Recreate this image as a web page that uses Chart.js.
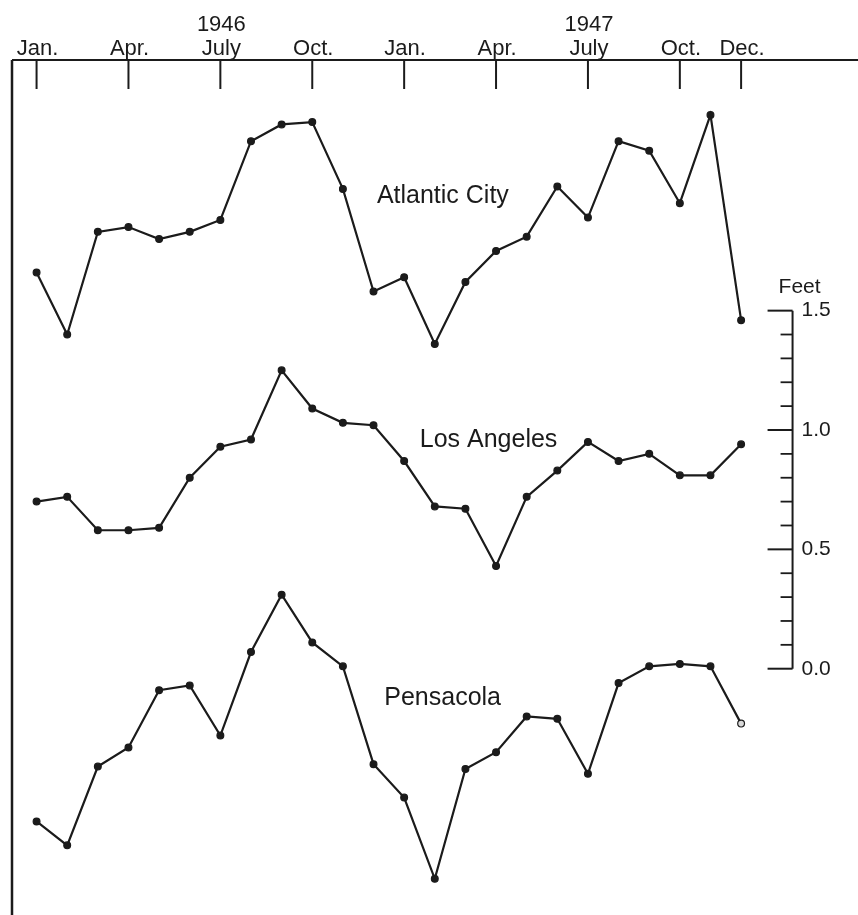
<!DOCTYPE html>
<html>
<head>
<meta charset="utf-8">
<script src="https://cdn.jsdelivr.net/npm/chart.js@4.4.0/dist/chart.umd.min.js"></script>
<style>
  html, body { margin: 0; padding: 0; background: #fff; }
  canvas { display: block; }
</style>
</head>
<body>
<canvas id="seaLevel" width="858" height="915"></canvas>
<script>
// monthly means, Jan 1946 .. Dec 1947 (in feet on the right-hand scale)
const months = ['1946-01','1946-02','1946-03','1946-04','1946-05','1946-06','1946-07','1946-08','1946-09','1946-10','1946-11','1946-12',
                '1947-01','1947-02','1947-03','1947-04','1947-05','1947-06','1947-07','1947-08','1947-09','1947-10','1947-11','1947-12'];

const atlanticCity = [1.66, 1.40, 1.83, 1.85, 1.80, 1.83, 1.88, 2.21, 2.28, 2.29, 2.01, 1.58,
                      1.64, 1.36, 1.62, 1.75, 1.81, 2.02, 1.89, 2.21, 2.17, 1.95, 2.32, 1.46];
const losAngeles   = [0.70, 0.72, 0.58, 0.58, 0.59, 0.80, 0.93, 0.96, 1.25, 1.09, 1.03, 1.02,
                      0.87, 0.68, 0.67, 0.43, 0.72, 0.83, 0.95, 0.87, 0.90, 0.81, 0.81, 0.94];
const pensacola    = [-0.64, -0.74, -0.41, -0.33, -0.09, -0.07, -0.28, 0.07, 0.31, 0.11, 0.01, -0.40,
                      -0.54, -0.88, -0.42, -0.35, -0.20, -0.21, -0.44, -0.06, 0.01, 0.02, 0.01, -0.23];

const stationNames = ['Atlantic City', 'Los Angeles', 'Pensacola'];

// top axis
const monthTicks = [0, 3, 6, 9, 12, 15, 18, 21, 23];
const monthTickLabels = [['Jan.'], ['Apr.'], ['1946', 'July'], ['Oct.'], ['Jan.'], ['Apr.'], ['1947', 'July'], ['Oct.'], ['Dec.']];

// right-hand "Feet" scale
const feetMajor = [0, 0.5, 1.0, 1.5];
const feetMajorLabels = ['0.0', '0.5', '1.0', '1.5'];
const feetMinor = [0.1, 0.2, 0.3, 0.4, 0.6, 0.7, 0.8, 0.9, 1.1, 1.2, 1.3, 1.4];

const ink = '#1b1b1b';
const font = '"Liberation Sans", Arial, Helvetica, sans-serif';

// where the station names sit (month index, feet)
const nameAnchors = [[11.11, 1.95], [12.51, 0.93], [11.35, -0.15]];
const feetAxisAt = 24.68;

const toPoints = arr => arr.map((v, i) => ({x: i, y: v}));

const framePlugin = {
  id: 'frame',
  afterDraw(chart) {
    const {ctx, chartArea, scales: {x, y}} = chart;
    const top = chartArea.top, left = chartArea.left;
    ctx.save();
    ctx.strokeStyle = ink;
    ctx.fillStyle = ink;

    // frame: top rule and left rule
    ctx.lineWidth = 2;
    ctx.beginPath();
    ctx.moveTo(left, top);
    ctx.lineTo(chart.width, top);
    ctx.stroke();
    ctx.lineWidth = 2.5;
    ctx.beginPath();
    ctx.moveTo(left, top);
    ctx.lineTo(left, chart.height);
    ctx.stroke();

    // month ticks (pointing down) and labels
    ctx.lineWidth = 2;
    ctx.font = '22px ' + font;
    ctx.textAlign = 'center';
    ctx.textBaseline = 'alphabetic';
    monthTicks.forEach((m, i) => {
      const px = x.getPixelForValue(m);
      ctx.beginPath();
      ctx.moveTo(px, top);
      ctx.lineTo(px, top + 29);
      ctx.stroke();
      const lines = monthTickLabels[i];
      lines.forEach((t, j) => {
        ctx.fillText(t, px + 1, top - 5 - (lines.length - 1 - j) * 24.5);
      });
    });

    // Feet axis
    const ax = x.getPixelForValue(feetAxisAt);
    ctx.lineWidth = 2;
    ctx.beginPath();
    ctx.moveTo(ax, y.getPixelForValue(1.5));
    ctx.lineTo(ax, y.getPixelForValue(0));
    ctx.stroke();
    feetMajor.forEach(v => {
      const py = y.getPixelForValue(v);
      ctx.beginPath();
      ctx.moveTo(ax - 25, py);
      ctx.lineTo(ax, py);
      ctx.stroke();
    });
    ctx.lineWidth = 1.8;
    feetMinor.forEach(v => {
      const py = y.getPixelForValue(v);
      ctx.beginPath();
      ctx.moveTo(ax - 12, py);
      ctx.lineTo(ax, py);
      ctx.stroke();
    });
    ctx.font = '21px ' + font;
    ctx.textAlign = 'left';
    ctx.textBaseline = 'middle';
    feetMajor.forEach((v, i) => {
      ctx.fillText(feetMajorLabels[i], ax + 9, y.getPixelForValue(v));
    });
    ctx.textBaseline = 'alphabetic';
    ctx.fillText('Feet', ax - 14, y.getPixelForValue(1.5) - 18);

    // station names
    ctx.font = '25px ' + font;
    stationNames.forEach((name, i) => {
      const [m, v] = nameAnchors[i];
      ctx.fillText(name, x.getPixelForValue(m), y.getPixelForValue(v));
    });
    ctx.restore();
  }
};

const seriesStyle = {
  borderColor: ink,
  backgroundColor: ink,
  borderWidth: 2.2,
  pointRadius: 3.4,
  pointHoverRadius: 3.4,
  pointBorderWidth: 1.2,
  pointBorderColor: ink,
  pointBackgroundColor: ink,
  tension: 0,
  fill: false
};

const ctx = document.getElementById('seaLevel');

new Chart(ctx, {
  type: 'line',
  data: {
    datasets: [
      {...seriesStyle, label: stationNames[0], data: toPoints(atlanticCity)},
      {...seriesStyle, label: stationNames[1], data: toPoints(losAngeles)},
      {...seriesStyle, label: stationNames[2], data: toPoints(pensacola),
        pointBackgroundColor: c => c.dataIndex === pensacola.length - 1 ? '#d8d8d8' : ink}
    ]
  },
  options: {
    responsive: false,
    animation: false,
    devicePixelRatio: 1,
    layout: {padding: {left: 12, top: 60, right: 0, bottom: 0}},
    plugins: {legend: {display: false}, tooltip: {enabled: false}},
    scales: {
      x: {type: 'linear', display: false, min: -0.802, max: 26.666},
      y: {type: 'linear', display: false, min: -1.0125, max: 2.55}
    }
  },
  plugins: [framePlugin]
});
</script>
</body>
</html>
